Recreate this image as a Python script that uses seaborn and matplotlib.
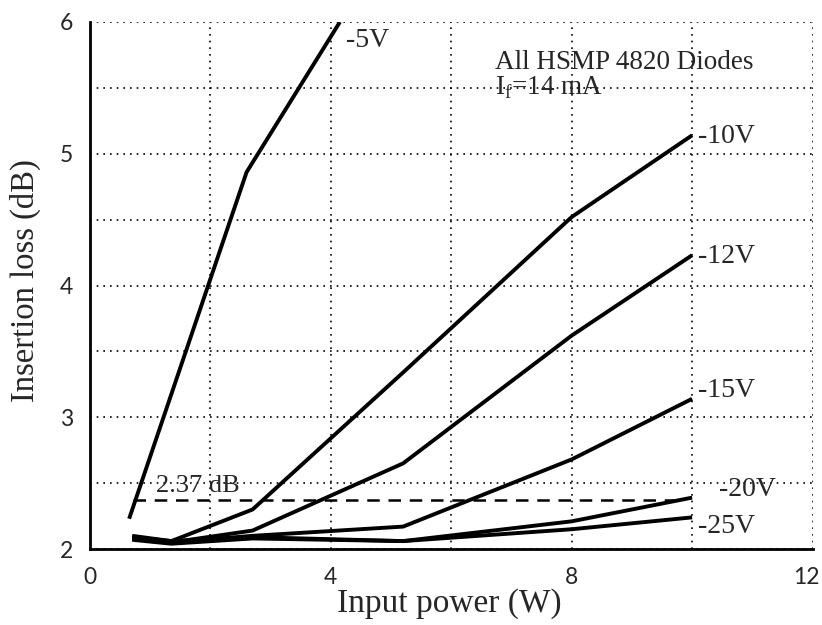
import matplotlib
matplotlib.use("Agg")
import matplotlib.pyplot as plt
import matplotlib.transforms as mtransforms
import seaborn as sns
import pandas as pd
import numpy as np

# Data
power = [0.7, 1.35, 2.7, 5.2, 8.0, 10.0]
loss_10v = [2.09, 2.06, 2.30, 3.34, 4.52, 5.14]
loss_12v = [2.08, 2.05, 2.14, 2.65, 3.62, 4.23]
loss_15v = [2.08, 2.05, 2.10, 2.17, 2.68, 3.14]
loss_20v = [2.10, 2.06, 2.09, 2.06, 2.21, 2.39]
loss_25v = [2.07, 2.04, 2.08, 2.06, 2.15, 2.24]
power_5v = [0.65, 2.6, 4.15]
loss_5v = [2.23, 4.86, 6.0]
threshold_x = [0.72, 9.7]
threshold_y = [2.37, 2.37]
x_tick_labels = ["0", "", "4", "", "8", "", "12"]
y_tick_labels = ["2", "", "3", "", "4", "", "5", "", "6"]

series = {
    "-10V": loss_10v,
    "-12V": loss_12v,
    "-15V": loss_15v,
    "-20V": loss_20v,
    "-25V": loss_25v,
}
rows = []
for name, vals in series.items():
    for x, y in zip(power, vals):
        rows.append({"bias": name, "power": x, "loss": y})
for x, y in zip(power_5v, loss_5v):
    rows.append({"bias": "-5V", "power": x, "loss": y})
df = pd.DataFrame(rows)

sns.set_style("white")
plt.rcParams['font.family'] = ['Liberation Serif', 'DejaVu Serif']

fig = plt.figure(figsize=(8.22, 6.25), dpi=100)
ax = fig.add_axes([0.1095, 0.1216, 0.879, 0.8432])

order = ["-5V", "-10V", "-12V", "-15V", "-20V", "-25V"]
sns.lineplot(data=df, x="power", y="loss", hue="bias", hue_order=order,
             palette=["black"] * 6, linewidth=2.8, legend=False, ax=ax,
             sort=True, estimator=None)
for l in ax.lines:
    l.set_solid_capstyle("butt")

ax.plot(threshold_x, threshold_y, color="black", linestyle=(0, (5, 3.5)), linewidth=1.8)

ax.set_xlim(0, 12)
ax.set_ylim(2, 6)
ax.set_xticks(np.arange(0, 13, 2))
ax.set_xticklabels(x_tick_labels)
ax.set_yticks(np.arange(2, 6.01, 0.5))
ax.set_yticklabels(y_tick_labels)

ax.grid(True, color="black", linestyle=(0, (1, 3)), linewidth=1.2)
ax.tick_params(direction="in", length=5, width=1.5, labelsize=16.5)
ax.tick_params(axis="x", pad=13)
ax.tick_params(axis="y", pad=12)
for lab in ax.get_xticklabels() + ax.get_yticklabels():
    lab.set_family(['Lato', 'DejaVu Sans'])
last = ax.get_xticklabels()[-1]
last.set_transform(last.get_transform() + mtransforms.ScaledTranslation(-6 / 100, 0, fig.dpi_scale_trans))

for s in ["top", "right"]:
    ax.spines[s].set_visible(False)
for s in ["left", "bottom"]:
    ax.spines[s].set_linewidth(2)
    ax.spines[s].set_color("black")

ax.set_xlabel("Input power (W)", fontsize=24)
ax.xaxis.set_label_coords(0.497, -0.103)
ax.xaxis.label.set_va("center")
ax.set_ylabel("Insertion loss (dB)", fontsize=23.5)
ax.yaxis.set_label_coords(-0.089, 0.51)
ax.yaxis.label.set_va("center")

lab_fs = 20
ax.text(4.25, 5.86, "-5V", fontsize=lab_fs, va="center", ha="left")
ax.text(10.1, 5.13, "-10V", fontsize=lab_fs, va="center", ha="left")
ax.text(10.1, 4.22, "-12V", fontsize=lab_fs, va="center", ha="left")
ax.text(10.1, 3.20, "-15V", fontsize=lab_fs, va="center", ha="left")
ax.text(10.45, 2.45, "-20V", fontsize=lab_fs, va="center", ha="left")
ax.text(10.1, 2.17, "-25V", fontsize=lab_fs, va="center", ha="left")
ax.text(1.1, 2.48, "2.37 dB", fontsize=19, va="center", ha="left")
ax.text(6.73, 5.69, "All HSMP 4820 Diodes", fontsize=19.5, va="center", ha="left")
ax.text(6.73, 5.50, r"I$_{\mathregular{f}}$=14 mA", fontsize=19.5, va="center", ha="left")

fig.savefig("out.png", dpi=100)
